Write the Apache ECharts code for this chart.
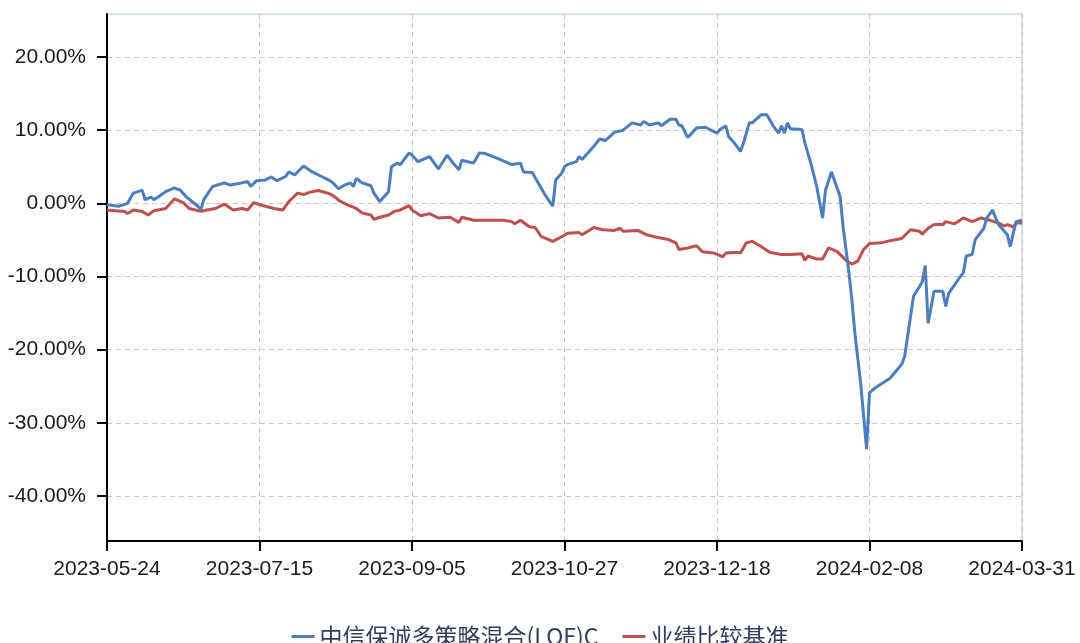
<!DOCTYPE html>
<html>
<head>
<meta charset="utf-8">
<script src="https://cdn.jsdelivr.net/npm/echarts@6/dist/echarts.min.js"></script>
<style>
html,body{margin:0;padding:0;background:#fff;}
#c{width:1080px;height:643px;}
</style>
</head>
<body>
<div id="c"></div>
<script>
// day offsets from 2023-05-24
const fundDays = [0,4,7,9,12,13,15,16,20,23,25,27,31,32,33,36,40,42,45,48,49,51,54,56,58,61,62,64,67,70,73,76,77,79,81,83,84,85,87,90,91,93,96,97,99,100,103,104,106,110,113,116,118,120,121,125,127,129,134,138,141,142,145,147,149,152,153,155,156,157,160,161,162,166,168,170,173,176,179,182,183,185,188,189,192,194,195,196,198,199,201,204,208,209,211,212,214,216,217,219,220,223,225,227,229,230,231,232,233,237,238,240,242,244,245,247,248,250,251,253,254,255,257,259,260,262,267,271,272,275,277,278,279,280,282,285,286,287,291,292,293,295,296,299,300,302,303,304,306,307,308,309,310,312];
const fundValues = [-0.2,-0.4,0.0,1.4,1.8,0.5,0.85,0.5,1.6,2.1,1.8,0.9,-0.4,-0.9,0.5,2.3,2.8,2.5,2.7,3.0,2.3,3.1,3.2,3.6,3.1,3.7,4.3,3.9,5.1,4.3,3.7,3.1,2.8,2.0,2.5,2.8,2.3,3.4,2.8,2.4,1.4,0.25,1.6,5.0,5.5,5.3,6.9,6.6,5.7,6.4,4.7,6.6,5.5,4.6,5.9,5.5,6.9,6.8,6.0,5.3,5.5,4.3,4.2,2.8,1.4,-0.4,3.2,4.1,5.0,5.3,5.7,6.4,6.0,7.8,8.8,8.6,9.7,10.0,11.0,10.7,11.2,10.7,11.0,10.6,11.5,11.5,10.7,10.6,9.0,9.4,10.3,10.4,9.6,10.1,10.6,9.1,8.2,7.1,8.2,11.0,11.0,12.1,12.1,10.7,9.6,10.6,9.6,11.0,10.2,10.1,8.2,5.5,2.3,-2.0,1.8,4.3,3.2,0.9,-3.2,-9.5,-13.2,-17.7,-24.6,-33.6,-25.9,-25.2,-23.9,-22.0,-20.9,-12.7,-11.4,-10.7,-8.5,-16.4,-12.0,-12.0,-14.1,-12.3,-10.0,-9.5,-7.2,-7.0,-5.0,-3.4,-2.0,-0.9,-2.0,-2.9,-3.8,-4.3,-5.9,-4.1,-2.5,-2.3];
const benchDays = [0,6,7,9,12,14,16,20,23,26,28,32,34,37,40,43,46,48,50,53,57,60,62,65,67,69,72,76,78,79,82,85,87,90,91,93,96,98,100,103,104,107,110,113,117,120,121,125,129,135,138,139,141,144,146,148,152,154,157,161,162,166,169,173,175,176,181,184,187,191,194,195,198,201,203,207,210,211,215,216,218,220,223,226,230,233,237,238,239,242,244,246,249,252,254,256,258,260,264,267,271,274,277,278,280,282,285,286,289,292,295,298,301,304,306,307,309,310,312];
const benchValues = [-0.9,-1.1,-1.4,-0.9,-1.1,-1.6,-1.0,-0.7,0.6,0.1,-0.7,-1.1,-0.9,-0.7,-0.1,-0.9,-0.7,-0.9,0.1,-0.3,-0.7,-0.9,0.25,1.4,1.2,1.5,1.75,1.3,0.8,0.4,-0.2,-0.7,-1.3,-1.6,-2.2,-1.9,-1.6,-1.1,-0.9,-0.3,-0.9,-1.7,-1.4,-2.0,-1.9,-2.6,-1.9,-2.3,-2.3,-2.3,-2.5,-2.8,-2.3,-3.2,-3.3,-4.5,-5.2,-4.8,-4.1,-4.0,-4.3,-3.3,-3.6,-3.7,-3.4,-3.8,-3.7,-4.3,-4.6,-4.9,-5.4,-6.3,-6.1,-5.8,-6.6,-6.8,-7.3,-6.8,-6.7,-6.8,-5.4,-5.2,-5.9,-6.7,-7.0,-7.0,-6.9,-7.8,-7.2,-7.6,-7.6,-6.1,-6.6,-7.8,-8.3,-7.9,-6.3,-5.5,-5.4,-5.1,-4.8,-3.6,-3.8,-4.2,-3.4,-2.9,-2.9,-2.5,-2.8,-2.0,-2.5,-2.0,-2.3,-2.7,-3.1,-2.9,-3.2,-2.7,-2.7];
const xTickLabels = ['2023-05-24','2023-07-15','2023-09-05','2023-10-27','2023-12-18','2024-02-08','2024-03-31'];
const yTickValues = [-40,-30,-20,-10,0,10,20];
const seriesNames = ['中信保诚多策略混合(LOF)C','业绩比较基准'];

const pair = (xs, ys) => xs.map((x, i) => [x, ys[i]]);
const chart = echarts.init(document.getElementById('c'));
const axisFont = {fontFamily: 'Liberation Sans', fontSize: 21, color: '#1a1a1a'};
chart.setOption({
  animation: false,
  color: ['#4a7ebf', '#c0504d'],
  grid: {left: 107, right: 58, top: 14, bottom: 102, show: true, borderColor: '#b4c2dc', borderWidth: 1, backgroundColor: 'transparent'},
  legend: {
    top: 620, left: 'center', itemWidth: 23, itemHeight: 3, itemGap: 24,
    icon: 'rect',
    textStyle: {fontFamily: 'Noto Sans CJK SC', fontSize: 23, color: '#2f3d5e'},
    data: seriesNames
  },
  xAxis: {
    type: 'value', min: 0, max: 312, interval: 52,
    axisLine: {show: true, onZero: false, lineStyle: {color: '#000', width: 2}},
    axisTick: {show: true, length: 10, lineStyle: {color: '#000', width: 2}},
    axisLabel: Object.assign({margin: 18, showMaxLabel: true, showMinLabel: true,
      formatter: v => xTickLabels[Math.round(v / 52)] || ''}, axisFont),
    splitLine: {show: true, lineStyle: {color: '#c8c8c8', type: [5, 4], width: 1}}
  },
  yAxis: {
    type: 'value', min: -46.15, max: 25.88,
    axisLine: {show: true, onZero: false, lineStyle: {color: '#000', width: 2}},
    axisTick: {show: true, length: 10, customValues: yTickValues, lineStyle: {color: '#000', width: 2}},
    axisLabel: Object.assign({margin: 21, customValues: yTickValues,
      formatter: v => v.toFixed(2) + '%'}, axisFont),
    splitLine: {show: true, lineStyle: {color: '#c8c8c8', type: [5, 4], width: 1}}
  },
  series: [
    {name: seriesNames[0], type: 'line', data: pair(fundDays, fundValues), showSymbol: false, symbol: 'none',
     lineStyle: {width: 3, color: '#4a7ebf'}, z: 3},
    {name: seriesNames[1], type: 'line', data: pair(benchDays, benchValues), showSymbol: false, symbol: 'none',
     lineStyle: {width: 3, color: '#c0504d'}, z: 2}
  ]
});
</script>
</body>
</html>
